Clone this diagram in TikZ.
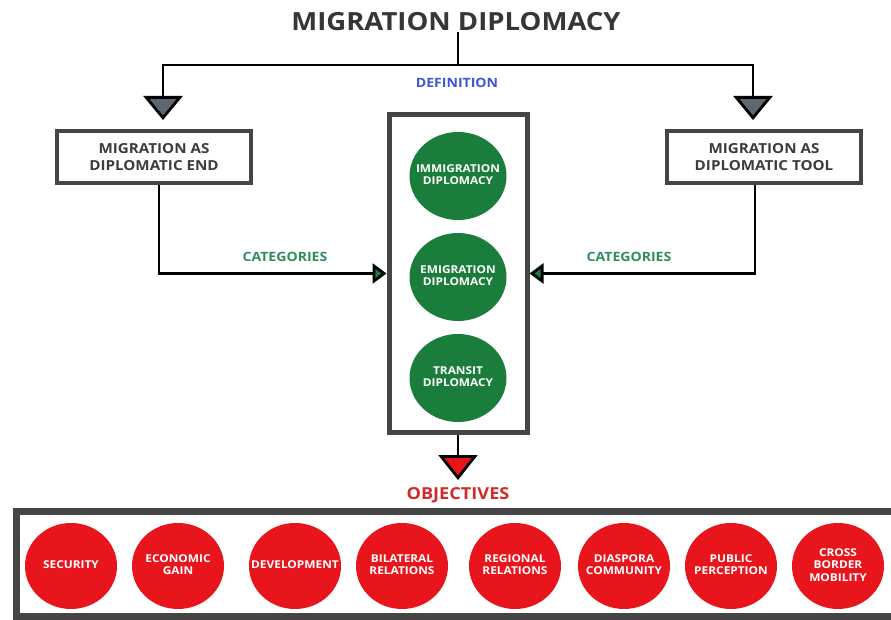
\documentclass[tikz,border=0pt]{standalone}
\usepackage{fontspec}
\setmainfont{Open Sans}[FakeStretch=1.1]
\usetikzlibrary{arrows.meta,shapes.geometric}
\definecolor{boxgray}{HTML}{454545}
\definecolor{textgray}{HTML}{3C3C3C}
\definecolor{titlegray}{HTML}{363636}
\definecolor{circgreen}{HTML}{1B7D3B}
\definecolor{labgreen}{HTML}{2E8E5E}
\definecolor{circred}{HTML}{E8161C}
\definecolor{labred}{HTML}{D42A2A}
\definecolor{defblue}{HTML}{3F56D6}
\definecolor{trigray}{HTML}{5E6670}
\newcommand{\ctxt}[1]{\makebox[0pt]{\begin{tabular}{@{}c@{}}#1\end{tabular}}}
\begin{document}
\begin{tikzpicture}[x=1pt,y=-1pt,
  conn/.style={draw=black, line width=2.8pt},
  graytip/.style={-{Triangle[width=39pt,length=24pt,fill=trigray]}},
  greentip/.style={-{Triangle[width=20pt,length=14pt,fill=circgreen]}},
  redtip/.style={-{Triangle[width=39pt,length=25pt,fill=circred]}},
  txtbox/.style={draw=boxgray, line width=4pt, fill=white, minimum width=194pt,
    minimum height=52pt, inner sep=0pt, align=center, text=textgray,
    font=\fontsize{13.8}{17}\selectfont\bfseries},
  gcirc/.style={ellipse, fill=circgreen, minimum width=97pt, minimum height=88pt,
    inner sep=0pt, text=white, font=\fontsize{10.8}{12.5}\selectfont\bfseries},
  rcirc/.style={ellipse, fill=circred, minimum width=92pt, minimum height=86pt,
    inner sep=0pt, text=white, font=\fontsize{10.8}{12.5}\selectfont\bfseries},
  lab/.style={inner sep=0pt, font=\fontsize{12.8}{15}\selectfont\bfseries}
]
\useasboundingbox (0,0) rectangle (891,620);
\fill[white] (0,0) rectangle (891,620);

% title
\node[inner sep=1pt, text=titlegray, font=\fontsize{25}{30}\selectfont\bfseries] (title) at (456,22) {MIGRATION DIPLOMACY};
\coordinate (hub) at (458,65);
\coordinate (ltip) at (163,120);
\coordinate (rtip) at (753,120);
\coordinate (lx) at (159,0);
\coordinate (rx) at (755,0);
\coordinate (objtip) at (458,480);

\node[lab, text=defblue] (def) at (457,83) {DEFINITION};

% side boxes
\node[txtbox] (endbox) at (154,157) {MIGRATION AS\\DIPLOMATIC END};
\node[txtbox] (toolbox) at (764,157) {MIGRATION AS\\DIPLOMATIC TOOL};

% central category box
\node[draw=boxgray, line width=5pt, minimum width=138pt, minimum height=318pt, inner sep=0pt] (catbox) at (458,273.5) {};
\node[gcirc] (imm) at (458,176) {\ctxt{IMMIGRATION\\DIPLOMACY}};
\node[gcirc] (emi) at (458,277) {\ctxt{EMIGRATION\\DIPLOMACY}};
\node[gcirc] (tra) at (458,378) {\ctxt{TRANSIT\\DIPLOMACY}};

% connectors from title
\draw[conn] (hub |- title.south) -- (hub);
\draw[conn, graytip] (hub) -| (ltip);
\draw[conn, graytip] (hub) -| (rtip);

% categories connectors
\draw[conn, greentip] (endbox.south -| lx) |- (catbox.west);
\draw[conn, greentip] (toolbox.south -| rx) |- (catbox.east);
\node[lab, text=labgreen] (catl) at (285,257) {CATEGORIES};
\node[lab, text=labgreen] (catr) at (629,257) {CATEGORIES};

% objectives
\draw[conn, redtip] (catbox.south) -- (objtip);
\node[inner sep=0pt, text=labred, font=\fontsize{16.5}{19}\selectfont\bfseries] (obj) at (458,495) {OBJECTIVES};

% objectives frame (runs off the right edge)
\draw[boxgray, line width=7pt] (891,511) -| (16,616) -- (891,616);
\node[rcirc] (o1) at (71,566) {\ctxt{SECURITY}};
\node[rcirc] (o2) at (178,566) {\ctxt{ECONOMIC\\GAIN}};
\node[rcirc] (o3) at (295,566) {\ctxt{DEVELOPMENT}};
\node[rcirc] (o4) at (402,566) {\ctxt{BILATERAL\\RELATIONS}};
\node[rcirc] (o5) at (515,566) {\ctxt{REGIONAL\\RELATIONS}};
\node[rcirc] (o6) at (624,566) {\ctxt{DIASPORA\\COMMUNITY}};
\node[rcirc] (o7) at (731,566) {\ctxt{PUBLIC\\PERCEPTION}};
\node[rcirc] (o8) at (838,566) {\ctxt{CROSS\\BORDER\\MOBILITY}};
\end{tikzpicture}
\end{document}
